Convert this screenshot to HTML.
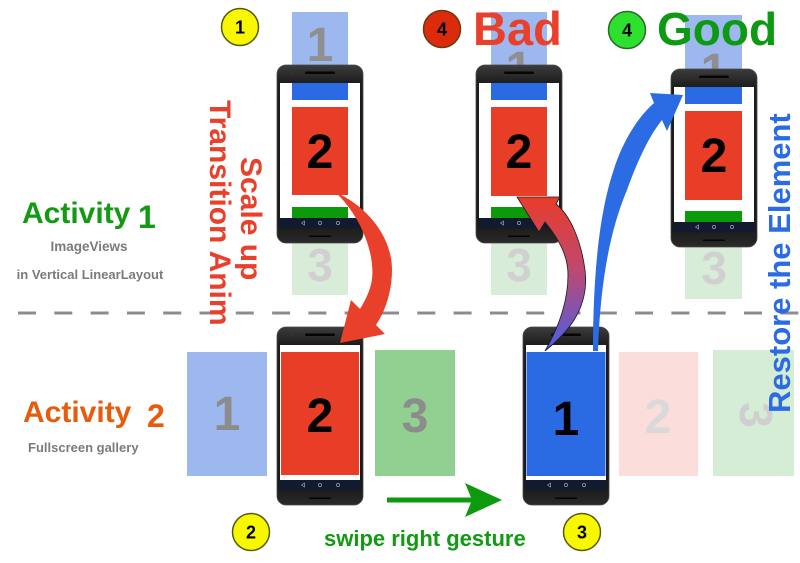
<!DOCTYPE html>
<html>
<head>
<meta charset="utf-8">
<style>
  html,body{margin:0;padding:0;background:#fff;}
  svg{display:block;}
  text{font-family:"Liberation Sans","DejaVu Sans",sans-serif;font-weight:bold;}
</style>
</head>
<body>
<svg width="800" height="563" viewBox="0 0 800 563" xmlns="http://www.w3.org/2000/svg">
  <defs>
    <linearGradient id="bodyg" x1="0" y1="0" x2="0" y2="1">
      <stop offset="0" stop-color="#3c3c3c"/>
      <stop offset="0.1" stop-color="#1d1d1d"/>
      <stop offset="0.9" stop-color="#1a1a1a"/>
      <stop offset="1" stop-color="#2a2a2a"/>
    </linearGradient>
    <linearGradient id="rg" x1="0" y1="0" x2="0" y2="1">
      <stop offset="0" stop-color="#e83c2a"/>
      <stop offset="0.45" stop-color="#c2486c"/>
      <stop offset="1" stop-color="#4a5ee8"/>
    </linearGradient>
    <g id="ph">
      <rect x="0" y="0" width="86" height="178" rx="9" fill="url(#bodyg)" stroke="#4a4a4a" stroke-width="0.8"/>
      <rect x="28" y="6.5" width="30" height="2.5" rx="1.2" fill="#050505"/>
      <circle cx="15" cy="8" r="1.2" fill="#333"/>
      <rect x="3" y="18" width="80" height="135" fill="#fff"/>
      <rect x="3" y="153" width="80" height="10" fill="#111a2e"/>
      <path d="M24.5 158 l3 -2 v4 z" fill="none" stroke="#9aa3b0" stroke-width="0.7"/>
      <circle cx="43" cy="158" r="1.6" fill="none" stroke="#9aa3b0" stroke-width="0.7"/>
      <circle cx="61" cy="158" r="1.6" fill="none" stroke="#9aa3b0" stroke-width="0.7"/>
      <rect x="32" y="170.5" width="22" height="1.5" fill="#050505"/>
    </g>
  </defs>

  <!-- ===== Top row ===== -->
  <rect x="292" y="12" width="56" height="88" fill="#9db7ef"/>
  <text x="320" y="61" font-size="48" fill="#8f8f8f" text-anchor="middle">1</text>
  <rect x="292" y="207" width="56" height="88" fill="#d7edd7"/>
  <text x="320" y="281" font-size="46" fill="#d0d0d0" text-anchor="middle">3</text>

  <rect x="491" y="12" width="56" height="88" fill="#9db7ef"/>
  <text x="519" y="85" font-size="48" fill="#8f8f8f" text-anchor="middle">1</text>
  <rect x="491" y="207" width="56" height="88" fill="#d7edd7"/>
  <text x="519" y="281" font-size="46" fill="#d0d0d0" text-anchor="middle">3</text>

  <rect x="685" y="15" width="57" height="88" fill="#9db7ef"/>
  <text x="714" y="87" font-size="48" fill="#8f8f8f" text-anchor="middle">1</text>
  <rect x="685" y="211" width="57" height="88" fill="#d7edd7"/>
  <text x="714" y="284" font-size="46" fill="#d0d0d0" text-anchor="middle">3</text>

  <g transform="translate(277,65)">
    <use href="#ph"/>
    <rect x="15" y="18" width="56" height="17" fill="#2a6be3"/>
    <rect x="15" y="42" width="56" height="88" fill="#e83e27"/>
    <text x="43" y="103" font-size="48" fill="#000" text-anchor="middle">2</text>
    <rect x="15" y="142" width="56" height="11" fill="#0a9a0a"/>
  </g>
  <g transform="translate(476,65)">
    <use href="#ph"/>
    <rect x="15" y="18" width="56" height="17" fill="#2a6be3"/>
    <rect x="15" y="42" width="56" height="89" fill="#e83e27"/>
    <text x="43" y="103" font-size="48" fill="#000" text-anchor="middle">2</text>
    <rect x="15" y="142" width="56" height="11" fill="#0a9a0a"/>
  </g>
  <g transform="translate(671,69)">
    <use href="#ph"/>
    <rect x="14" y="18" width="57" height="17" fill="#2a6be3"/>
    <rect x="14" y="42" width="57" height="89" fill="#e83e27"/>
    <text x="43" y="103" font-size="48" fill="#000" text-anchor="middle">2</text>
    <rect x="14" y="142" width="57" height="11" fill="#0a9a0a"/>
  </g>

  <text x="473" y="45" font-size="47" fill="#e8402a">Bad</text>
  <text x="657" y="45" font-size="46" fill="#0d9a12">Good</text>

  <circle cx="240" cy="27" r="18.5" fill="#f7f700" stroke="#5a5a10" stroke-width="1.5"/>
  <text x="240" y="33.5" font-size="18" fill="#000" text-anchor="middle">1</text>
  <circle cx="442" cy="29" r="18.5" fill="#dc2a0c" stroke="#6a3a10" stroke-width="1.5"/>
  <text x="442" y="35.5" font-size="18" fill="#000" text-anchor="middle">4</text>
  <circle cx="627" cy="30" r="18.5" fill="#2ee02e" stroke="#2a6a2a" stroke-width="1.5"/>
  <text x="627" y="36.5" font-size="18" fill="#000" text-anchor="middle">4</text>

  <text x="22" y="223" font-size="30" fill="#129a12">Activity</text>
  <text x="138" y="228" font-size="32" fill="#129a12">1</text>
  <text x="89" y="251" font-size="13.5" fill="#7b7b7b" text-anchor="middle">ImageViews</text>
  <text x="90" y="279" font-size="13" fill="#7b7b7b" text-anchor="middle">in Vertical LinearLayout</text>

  <text x="23" y="422" font-size="30" fill="#e65c0c">Activity</text>
  <text x="147" y="427" font-size="32" fill="#e65c0c">2</text>
  <text x="28" y="452" font-size="13" fill="#7b7b7b">Fullscreen gallery</text>

  <line x1="-18.3" y1="313" x2="800" y2="313" stroke="#8c8c8c" stroke-width="3" stroke-dasharray="18 18.3"/>

  <!-- ===== Bottom row ===== -->
  <rect x="187" y="352" width="80" height="124" fill="#9db7ef"/>
  <text x="227" y="430" font-size="48" fill="#8c8c8c" text-anchor="middle">1</text>

  <g transform="translate(277,327)">
    <use href="#ph"/>
    <rect x="4" y="25" width="78" height="123" fill="#e83e27"/>
    <text x="43" y="105" font-size="48" fill="#000" text-anchor="middle">2</text>
  </g>

  <rect x="375" y="350" width="80" height="126" fill="#91d091"/>
  <text x="415" y="432" font-size="48" fill="#8c8c8c" text-anchor="middle">3</text>

  <g transform="translate(523,327)">
    <use href="#ph"/>
    <rect x="3.5" y="25" width="79" height="124" fill="#2a6be3"/>
    <text x="43" y="108" font-size="48" fill="#000" text-anchor="middle">1</text>
  </g>

  <rect x="619" y="352" width="79" height="124" fill="#fbdddc"/>
  <text x="658" y="433" font-size="48" fill="#d9d9d9" text-anchor="middle">2</text>

  <rect x="713" y="350" width="81" height="126" fill="#d5ecd5"/>
  <text transform="translate(740,415) rotate(90)" font-size="46" fill="#cfcfcf" text-anchor="middle">3</text>

  <circle cx="251" cy="532" r="18.5" fill="#f7f700" stroke="#5a5a10" stroke-width="1.5"/>
  <text x="251" y="538.5" font-size="18" fill="#000" text-anchor="middle">2</text>
  <circle cx="582" cy="532" r="18.5" fill="#f7f700" stroke="#5a5a10" stroke-width="1.5"/>
  <text x="582" y="538.5" font-size="18" fill="#000" text-anchor="middle">3</text>

  <line x1="387" y1="500" x2="472" y2="500" stroke="#0e9a0e" stroke-width="5"/>
  <polygon points="465,483 502,500 465,517 472,500" fill="#0e9a0e"/>
  <text x="324" y="546" font-size="22" fill="#129a12">swipe right gesture</text>

  <!-- ===== Arrows ===== -->
  <path d="M335,192 C365,205 392,235 392,270 C392,290 386,310 376,325 L385,334 L340,343 L351,300 L360,309 C369,294 374,282 372,265 C370,240 355,210 335,192 Z" fill="#e8402a"/>

  <path d="M545,351 C565,335 590,310 585,270 C581,240 570,215 556,204 L560,197 L517,197 L539,232 L545,222 C558,238 568,255 568,275 C568,300 560,325 545,351 Z" fill="url(#rg)" stroke="#1a1a1a" stroke-width="0.8"/>

  <path d="M593,351 L598,351 C600,290 608,235 627,190 C637,162 649,136 662,120 L667,131 L683,95 L650,93 L654,103 C638,117 622,142 613,172 C600,212 593,270 593,351 Z" fill="#2b6be3"/>

  <text transform="translate(241,157) rotate(90)" font-size="30" fill="#e8402a">Scale up</text>
  <text transform="translate(210,100) rotate(90)" font-size="30" fill="#e8402a">Transition Anim</text>
  <text transform="translate(790,413) rotate(-90)" font-size="31" fill="#2b6be3">Restore the Element</text>
</svg>
</body>
</html>
